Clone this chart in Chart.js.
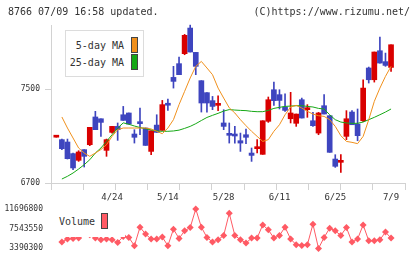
<!DOCTYPE html>
<html>
<head>
<meta charset="utf-8">
<script src="https://cdn.jsdelivr.net/npm/chart.js@4/dist/chart.umd.min.js"></script>
<style>
html, body { margin: 0; padding: 0; background: #fff; }
#wrap { position: relative; width: 420px; height: 259px; overflow: hidden; font-family: "DejaVu Sans Mono", monospace; color: #333; }
#main { position: absolute; left: 0; top: 0; }
#vol { position: absolute; left: 0; top: 195px; }
.hd { position: absolute; top: 6px; font-size: 10px; line-height: 12px; white-space: pre; }
#lgd { position: absolute; left: 65px; top: 30px; width: 77px; height: 45px; border: 1px solid #dcdcdc; background: #fff; }
.lt { position: absolute; right: 19px; font-size: 10px; line-height: 12px; white-space: pre; }
.sw { position: absolute; left: 65px; width: 5px; height: 14px; border: 1px solid #444; }
#vbox { position: absolute; left: 55px; top: 206px; width: 70px; height: 31px; background: #fff; }
#vlab { position: absolute; left: 4px; top: 10px; font-size: 10px; line-height: 12px; }
#vsw { position: absolute; left: 46px; top: 7px; width: 5px; height: 14px; border: 1px solid #444; background: #ff5a64; }
</style>
</head>
<body>
<div id="wrap">
  <canvas id="main" width="420" height="205"></canvas>
  <canvas id="vol" width="420" height="64"></canvas>
  <div class="hd" style="left:8px">8766 07/09 16:58 updated.</div>
  <div class="hd" style="right:10px">(C)https://www.rizumu.net/</div>
  <div id="lgd">
    <div class="lt" style="top:9px">5-day MA</div>
    <div class="lt" style="top:26px">25-day MA</div>
    <div class="sw" style="top:6px;background:#f0901c"></div>
    <div class="sw" style="top:23px;background:#16a816"></div>
  </div>
  <div id="vbox">
    <div id="vlab">Volume</div>
    <div id="vsw"></div>
  </div>
</div>
<script>
// daily candles (index 0 .. 60), oldest first
const open  = [7090,7069,7049,6950,6893,6984,7026,7262,7247,6978,7131,7182,7281,7296,7117,7219,7168,6969,7193,7148,
               7370,7599,7716,7801,8019,7812,7571,7469,7401,7361,7211,7117,7111,7060,7111,6955,6992,6944,7225,7494,
               7452,7347,7247,7208,7409,7324,7230,7125,7358,7273,6904,6876,7097,7304,7202,7230,7679,7579,7826,7733,7684]
const high  = [7090,7074,7074,6955,6975,6984,7174,7310,7247,7074,7182,7211,7352,7296,7154,7338,7168,7145,7281,7403,
               7415,7693,7772,7965,8044,7812,7571,7469,7437,7443,7324,7211,7182,7125,7160,6998,7069,7230,7432,7559,
               7494,7460,7472,7287,7423,7367,7301,7301,7452,7273,6941,6941,7316,7316,7330,7579,7687,7815,7942,7806,7877]
const low   = [7090,6984,6904,6813,6884,6836,7018,7154,7097,6927,7125,7063,7233,7202,7040,7111,7020,6941,7131,7148,
               7318,7508,7622,7792,7815,7622,7304,7304,7324,7316,7154,7040,7040,6969,7035,6884,6955,6944,7216,7361,
               7330,7310,7211,7182,7253,7259,7182,7111,7287,6961,6833,6791,7069,7196,7060,7222,7551,7559,7721,7693,7650]
const close = [7090,6992,6907,6828,6964,6927,7174,7154,7216,7069,7182,7154,7233,7202,7089,7205,7020,7145,7131,7367,
               7362,7565,7622,7957,7815,7693,7381,7381,7352,7361,7182,7106,7100,7040,7089,6935,6992,7230,7409,7401,
               7403,7318,7296,7287,7253,7324,7188,7296,7287,6961,6842,6890,7247,7196,7103,7508,7579,7815,7721,7701,7877]

const ma5  = [null,7262,7168,7083,6998,6955,6927,6955,6985,7026,7097,7154,7168,7168,7168,7168,7168,7160,7140,7120,
              7168,7239,7367,7480,7594,7693,7735,7679,7622,7508,7423,7340,7296,7239,7188,7140,7097,7054,7069,7140,
              7196,7281,7347,7361,7338,7310,7287,7273,7267,7239,7182,7103,7054,7046,7035,7097,7239,7395,7508,7608,7693]
const ma25 = [null,6734,6757,6785,6819,6856,6898,6955,6998,7054,7111,7168,7212,7200,7185,7172,7162,7152,7143,7140,
              7140,7143,7150,7165,7182,7205,7232,7258,7276,7293,7312,7325,7321,7318,7316,7310,7307,7307,7318,7335,
              7344,7352,7355,7358,7358,7352,7347,7335,7330,7281,7239,7219,7211,7208,7208,7219,7239,7259,7281,7304,7330]

// index 5 and 6 sit behind the Volume legend, guessed
const volume = [null,4658000,5292000,5419000,5504000,6500000,6200000,5500000,5145000,5300000,5145000,4580000,5842000,5631000,3876000,
                7829000,6349000,5292000,5292000,5715000,3876000,7406000,5419000,7047000,7744000,11697000,7829000,5637000,
                4658000,5145000,6060000,10788000,6060000,5145000,4447000,5504000,5504000,8315000,7258000,5504000,6060000,
                7829000,5292000,4088000,3946000,4088000,8463000,3300000,5637000,7617000,7047000,6060000,7744000,4658000,
                5292000,8315000,4933000,4933000,5145000,6772000,5504000]

const dateLabels = ['4/24', '5/14', '5/28', '6/11', '6/25', '7/9']
const dateIndex  = [10, 20, 30, 40, 50, 60]
const priceTicks = [6700, 7500]
const volTicks   = [3390300, 7543550, 11696800]

const RED = '#d90000'
const BLUE = '#3e45bf'
const GRID = '#d2d2d2'
const XMIN = -0.95
const XMAX = 62.5

Chart.defaults.font.family = '"DejaVu Sans Mono", monospace'
Chart.defaults.color = '#333'

const candleColors = open.map((o, i) => close[i] >= o ? RED : BLUE)
const pts = arr => arr.map((v, i) => ({ x: i, y: v }))

new Chart(document.getElementById('main').getContext('2d'), {
    type: 'bar',
    data: {
        datasets: [
            { type: 'line', data: pts(ma5), borderColor: '#f0901c', borderWidth: 1, pointRadius: 0, tension: 0, clip: false },
            { type: 'line', data: pts(ma25), borderColor: '#16a816', borderWidth: 1, pointRadius: 0, tension: 0, clip: false },
            {
                data: open.map((o, i) => ({ x: i, y: [o, close[i]] })),
                backgroundColor: candleColors,
                barThickness: 5,
                minBarLength: 2,
                grouped: false,
                clip: false
            },
            {
                data: low.map((l, i) => ({ x: i, y: [l, high[i]] })),
                backgroundColor: candleColors,
                barThickness: 1,
                grouped: false,
                clip: false
            }
        ]
    },
    options: {
        responsive: false,
        animation: false,
        layout: { padding: { top: 25, right: 15, left: 0, bottom: 0 } },
        scales: {
            x: {
                type: 'linear',
                offset: false,
                min: XMIN,
                max: XMAX,
                afterBuildTicks: s => {
                    const t = []
                    for (let k = 0; k <= 11; k++) t.push({ value: s.min + (s.max - s.min) * k / 11, div: true })
                    dateIndex.forEach((v, j) => t.push({ value: v, lab: dateLabels[j] }))
                    s.ticks = t
                },
                afterFit: s => { s.height = 22 },
                ticks: {
                    autoSkip: false,
                    maxRotation: 0,
                    padding: 2,
                    font: { size: 9 },
                    callback: (v, i, ticks) => ticks[i].lab || ''
                },
                grid: {
                    offset: false,
                    drawOnChartArea: false,
                    tickLength: 7,
                    tickColor: ctx => (ctx.tick && ctx.tick.div) ? GRID : 'rgba(0,0,0,0)'
                },
                border: { color: GRID }
            },
            y: {
                min: 6700,
                max: 8045,
                afterBuildTicks: s => { s.ticks = priceTicks.map(v => ({ value: v })) },
                afterFit: s => { s.width = 51 },
                ticks: { padding: 5, font: { size: 8 }, callback: v => String(v) },
                grid: { drawOnChartArea: false, tickLength: 6, tickColor: GRID },
                border: { color: GRID }
            }
        },
        plugins: {
            legend: { display: false },
            tooltip: { enabled: false }
        }
    }
});

new Chart(document.getElementById('vol').getContext('2d'), {
    type: 'line',
    data: {
        datasets: [{
            data: pts(volume),
            borderColor: '#ff5a64',
            backgroundColor: '#ff5a64',
            borderWidth: 1,
            pointStyle: 'rectRot',
            pointRadius: 3.5,
            pointBorderWidth: 0,
            spanGaps: false,
            tension: 0,
            clip: false
        }]
    },
    options: {
        responsive: false,
        animation: false,
        layout: { padding: { top: 14, right: 15, left: 0, bottom: 11 } },
        scales: {
            x: { type: 'linear', offset: false, min: XMIN, max: XMAX, display: false },
            y: {
                min: volTicks[0],
                max: volTicks[2],
                afterBuildTicks: s => { s.ticks = volTicks.map(v => ({ value: v })) },
                afterFit: s => { s.width = 51 },
                ticks: { padding: 0, font: { size: 8 }, callback: v => String(v) },
                grid: { display: false, tickLength: 8 },
                border: { display: false }
            }
        },
        plugins: {
            legend: { display: false },
            tooltip: { enabled: false }
        }
    }
});
</script>
</body>
</html>
